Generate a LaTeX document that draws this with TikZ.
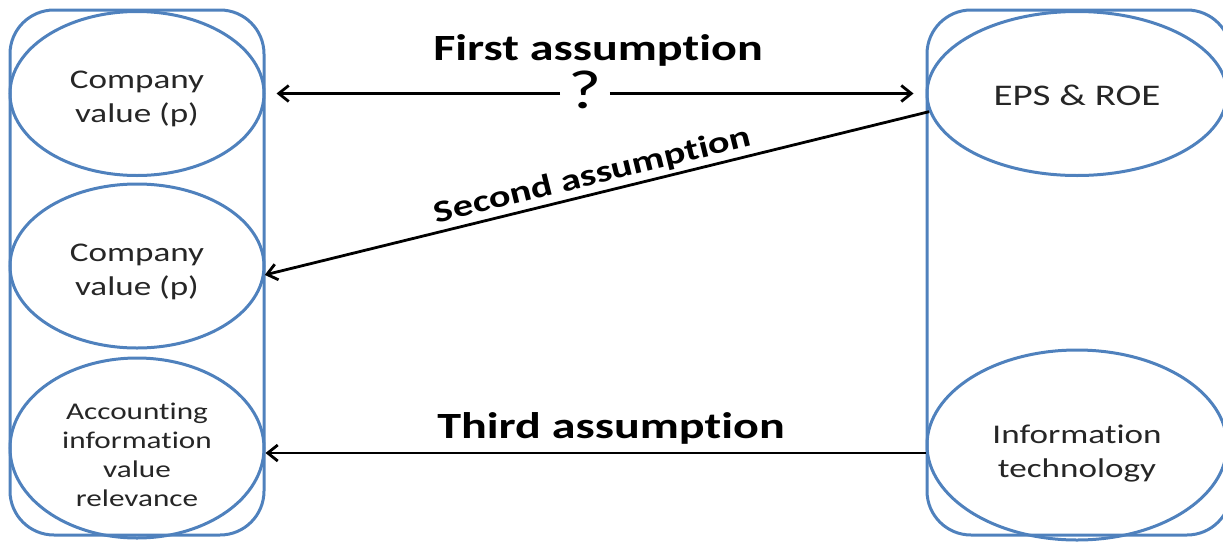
\documentclass[tikz,border=0pt]{standalone}
\usepackage{fontspec}
\setmainfont{Carlito}[FakeStretch=1.3, Ligatures=NoCommon]
\usetikzlibrary{shapes.geometric,arrows.meta}
\definecolor{obl}{RGB}{79,129,189}
\newcommand{\lowtxt}[2]{\raisebox{\dimexpr-#1pt-0.25em\relax}[0pt][0pt]{\begin{tabular}{@{}c@{}}#2\end{tabular}}}
\begin{document}
\begin{tikzpicture}[x=1pt,y=-1pt,
  colbox/.style={draw=obl, line width=3pt, rounded corners=44pt, inner sep=0pt},
  oval/.style={ellipse, draw=obl, line width=3pt, inner sep=0pt, align=center, text=black!85},
  arr/.style={draw=black, line width=2.8pt, -{Straight Barb[length=10pt,width=16pt]}},
  lbl/.style={font=\bfseries\fontsize{37}{40}\selectfont, inner sep=0pt}
]
\useasboundingbox (0,0) rectangle (1223,541);
% columns
\node[colbox, minimum width=254pt, minimum height=525pt] (lcol) at (137,272.5) {};
\node[colbox, minimum width=304pt, minimum height=525pt] (rcol) at (1079,272.5) {};
% left ellipses
\node[oval, minimum width=254pt, minimum height=164pt, font=\fontsize{27}{34}\selectfont] (cv1) at (137,93.5) {\lowtxt{5}{Company\\value (p)}};
\node[oval, minimum width=254pt, minimum height=164pt, font=\fontsize{27}{34}\selectfont] (cv2) at (137,266) {\lowtxt{5}{Company\\value (p)}};
\node[oval, minimum width=254pt, minimum height=180pt, font=\fontsize{24}{29}\selectfont] (acc) at (137,448) {\lowtxt{9}{Accounting\\information\\value\\relevance}};
% right ellipses
\node[oval, minimum width=300pt, minimum height=164pt, font=\fontsize{30}{36}\selectfont] (eps) at (1077,93.5) {\lowtxt{4}{EPS \& ROE}};
\node[oval, minimum width=300pt, minimum height=190pt, font=\fontsize{27}{34}\selectfont] (it) at (1077,445) {\lowtxt{8}{Information\\technology}};
% first assumption
\node[font=\fontsize{55}{60}\selectfont, inner sep=0pt] (q) at (585,90) {?};
\node[lbl] (l1) at (598,50) {First assumption};
\draw[arr, shorten <=8pt, shorten >=11pt] (q.west |- cv1.east) -- (cv1.east);
\draw[arr, shorten <=8pt, shorten >=12pt] (q.east |- eps.west) -- (eps.west);
% second assumption
\draw[arr] (eps.187) -- node[sloped, above=3pt, font=\bfseries\fontsize{31}{34}\selectfont, inner sep=0pt] (l2) {Second assumption} (cv2.-4);
% third assumption
\draw[arr] (it.west |- 0,453) -- (acc.east |- 0,453);
\node[lbl] (l3) at (611,428) {Third assumption};
\end{tikzpicture}
\end{document}
